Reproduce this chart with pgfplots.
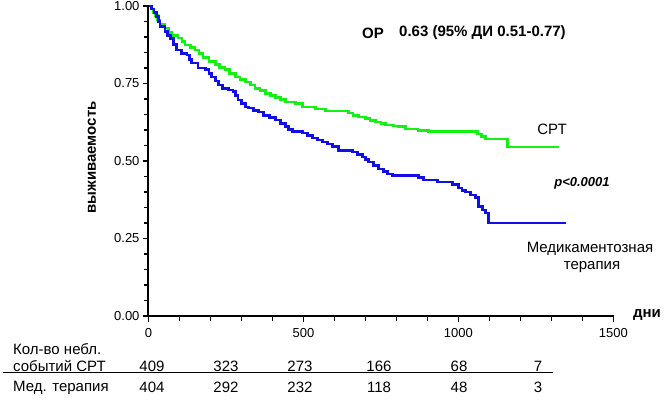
\documentclass[border=0pt]{standalone}
\usepackage{fontspec}
\setmainfont{Liberation Sans}
\usepackage{pgfplots}
\pgfplotsset{compat=1.18}
\definecolor{kmgreen}{RGB}{20,240,20}
\definecolor{kmblue}{RGB}{15,15,230}
\begin{document}
\begin{tikzpicture}
\useasboundingbox (-148.5pt,-83pt) rectangle (515.5pt,316pt);
\begin{axis}[
  at={(0pt,0pt)}, anchor=south west,
  scale only axis, width=464.8pt, height=310pt,
  xmin=0, xmax=1500, ymin=0, ymax=1,
  axis lines*=left,
  axis line style={line width=1.8pt, black},
  xtick={0,500,1000,1500}, minor x tick num=4,
  ytick={0,0.25,0.5,0.75,1}, minor y tick num=4,
  tick align=outside,
  major tick length=5.5pt, minor tick length=4pt,
  tick style={black, line width=1.5pt},
  /pgf/number format/assume math mode=true,
  /pgf/number format/1000 sep={},
  yticklabel style={/pgf/number format/fixed, /pgf/number format/fixed zerofill, /pgf/number format/precision=2, font=\fontsize{13}{15}\selectfont},
  xticklabel style={font=\fontsize{13}{15}\selectfont, yshift=-3pt},
  clip=false,
]
\addplot[const plot, kmgreen, line width=2.8pt, mark=none] coordinates {
(0,1.0)(8,0.99)(15,0.98)(21,0.97)(28,0.955)(37,0.94)(53,0.929)(65,0.915)(75,0.906)(95,0.897)(108,0.885)(118,0.874)(135,0.865)(150,0.858)(163,0.847)(176,0.835)(195,0.822)(215,0.81)(230,0.801)(247,0.794)(262,0.783)(280,0.771)(295,0.763)(312,0.755)(328,0.745)(344,0.735)(360,0.727)(377,0.719)(393,0.712)(409,0.706)(425,0.698)(441,0.69)(474,0.685)(496,0.674)(538,0.668)(570,0.661)(645,0.655)(660,0.648)(677,0.642)(700,0.636)(715,0.630)(732,0.626)(750,0.620)(765,0.616)(790,0.613)(807,0.61)(829,0.603)(870,0.598)(904,0.594)(1062,0.587)(1075,0.580)(1088,0.571)(1159,0.545)(1324,0.545)
};
\addplot[const plot, kmblue, line width=2.8pt, mark=none] coordinates {
(0,1)(10,0.99)(18,0.98)(27,0.966)(33,0.95)(37,0.933)(53,0.917)(62,0.905)(70,0.896)(80,0.877)(91,0.858)(107,0.848)(124,0.842)(132,0.828)(140,0.816)(160,0.800)(183,0.794)(195,0.782)(204,0.771)(215,0.758)(225,0.745)(240,0.735)(257,0.729)(273,0.723)(281,0.710)(289,0.697)(300,0.685)(312,0.674)(322,0.671)(338,0.664)(354,0.658)(370,0.648)(390,0.640)(409,0.632)(425,0.621)(441,0.610)(453,0.602)(464,0.594)(496,0.590)(512,0.582)(529,0.574)(545,0.568)(561,0.561)(577,0.555)(593,0.548)(613,0.535)(658,0.529)(674,0.521)(690,0.513)(700,0.505)(710,0.497)(726,0.485)(742,0.474)(758,0.465)(772,0.458)(787,0.452)(871,0.448)(888,0.439)(933,0.432)(981,0.423)(1001,0.413)(1012,0.406)(1023,0.400)(1039,0.390)(1055,0.381)(1065,0.352)(1078,0.342)(1088,0.332)(1098,0.300)(1347,0.300)
};
\end{axis}
% axis lines and ticks drawn outside the axis (box is 464.8pt x 310pt at origin)
\draw[line width=2pt, black, line cap=rect] (0pt,310pt) -- (0pt,0pt) -- (464.8pt,0pt);
\foreach \i in {0,5,10,15} {\draw[line width=1.6pt] (\i*30.9867pt,0pt) -- ++(0pt,-5.5pt);}
\foreach \i in {1,2,3,4,6,7,8,9,11,12,13,14} {\draw[line width=1.6pt] (\i*30.9867pt,0pt) -- ++(0pt,-4.5pt);}
\foreach \j in {0,5,10,15,20} {\draw[line width=1.6pt] (0pt,\j*15.5pt) -- ++(-5.5pt,0pt);}
\foreach \j in {1,2,3,4,6,7,8,9,11,12,13,14,16,17,18,19} {\draw[line width=1.6pt] (0pt,\j*15.5pt) -- ++(-3.5pt,0pt);}
\node[rotate=90, font=\fontsize{15}{17}\selectfont\bfseries] at (-56.5pt,158.5pt) {выживаемость};
\node[anchor=west, font=\fontsize{15}{17}\selectfont\bfseries, inner sep=0] at (213.5pt,283pt) {ОР};
\node[anchor=west, font=\fontsize{15}{17}\selectfont\bfseries, inner sep=0] at (250.5pt,283pt) {0.63 (95\% ДИ 0.51-0.77)};
\node[font=\fontsize{15}{17}\selectfont] at (403.5pt,187pt) {СРТ};
\node[font=\fontsize{13}{15}\selectfont\bfseries\itshape] at (433.5pt,133pt) {p<0.0001};
\node[font=\fontsize{15}{17}\selectfont] at (441.5pt,67pt) {Медикаментозная};
\node[font=\fontsize{15}{17}\selectfont] at (443.5pt,49pt) {терапия};
\node[font=\fontsize{15}{17}\selectfont\bfseries] at (498.5pt,1pt) {дни};
\node[anchor=west, font=\fontsize{15}{17}\selectfont, inner sep=0] at (-135.5pt,-33.5pt) {Кол-во небл.};
\node[anchor=west, font=\fontsize{15}{17}\selectfont, inner sep=0] at (-135.5pt,-50pt) {событий СРТ};
\node[anchor=west, font=\fontsize{15}{17}\selectfont, inner sep=0] at (-135.5pt,-72pt) {Мед. терапия};
\draw[line width=1pt] (-145pt,-56.5pt) -- (404.5pt,-56.5pt);
\foreach \xx/\a/\b in {3.5/409/404, 77.5/323/292, 151.5/273/232, 230.5/166/118, 310.5/68/48, 389.5/7/3} {
  \node[font=\fontsize{15}{17}\selectfont, inner sep=0] at (\xx pt,-50pt) {\a};
  \node[font=\fontsize{15}{17}\selectfont, inner sep=0] at (\xx pt,-71.5pt) {\b};
}
\end{tikzpicture}
\end{document}
